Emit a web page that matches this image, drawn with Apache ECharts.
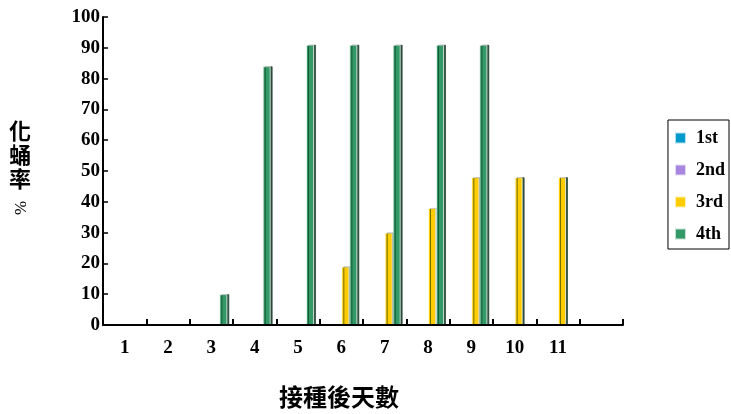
<!DOCTYPE html>
<html><head><meta charset="utf-8">
<script src="https://cdn.jsdelivr.net/npm/echarts@6/dist/echarts.min.js"></script>
<style>html,body{margin:0;padding:0;background:#fff}#c{width:731px;height:414px}</style>
</head><body><div id="c"></div>
<script>
const categories = ['1','2','3','4','5','6','7','8','9','10','11',''];
const seriesNames = ['1st','2nd','3rd','4th'];
const first  = [0,0,0,0,0,0,0,0,0,0,0,null];
const second = [0,0,0,0,0,0,0,0,0,0,0,null];
const third  = [0,0,0,0,0,19,30,38,48,48,48,null];
const fourth = [0,0,10,84,91,91,91,91,91,null,null,null];
const yTicks = [0,10,20,30,40,50,60,70,80,90,100];
const colors = ['#0099CC','#A885DE','#FFCC00','#339966'];
const dataSets = [first, second, third, fourth];
const font = '"Liberation Serif", "Times New Roman", serif';

const chart = echarts.init(document.getElementById('c'));
chart.setOption({
  animation: false,
  backgroundColor: '#fff',
  grid: {left: 103, right: 108, top: 17, bottom: 89},
  legend: {
    orient: 'vertical', right: 2, top: 120,
    itemWidth: 11, itemHeight: 11, itemGap: 14,
    padding: [9, 4, 6, 6],
    borderColor: '#000', borderWidth: 1,
    icon: 'rect',
    textStyle: {fontFamily: font, fontWeight: 'bold', fontSize: 18, color: '#000', padding: [0, 0, 0, 5]},
    data: seriesNames
  },
  xAxis: {
    type: 'category', data: categories, z: 5,
    axisLine: {lineStyle: {color: '#000', width: 2}},
    axisTick: {show: true, interval: 0, inside: true, length: 6, lineStyle: {color: '#000', width: 2}},
    axisLabel: {fontFamily: font, fontWeight: 'bold', fontSize: 19, color: '#000', margin: 14, interval: 0},
    splitLine: {show: false}
  },
  yAxis: {
    type: 'value', min: 0, max: 100, interval: 10,
    axisLine: {show: true, lineStyle: {color: '#000', width: 2}},
    axisTick: {show: true, inside: true, length: 5, lineStyle: {color: '#000', width: 1.5}},
    axisLabel: {fontFamily: font, fontWeight: 'bold', fontSize: 19, color: '#000', margin: 3,
      formatter: v => yTicks.includes(v) ? String(v) : ''},
    splitLine: {show: false}
  },
  graphic: [
    {type: 'text', left: 9, top: 119, style: {text: '化\n蛹\n率', fontFamily: '"Noto Sans CJK TC", sans-serif', fontWeight: 'bold', fontSize: 22, lineHeight: 24, fill: '#000'}},
    {type: 'text', x: 13, y: 215, rotation: Math.PI/2, style: {text: '%', fontFamily: font, fontSize: 17, fill: '#000'}},
    {type: 'text', left: 279, top: 385, style: {text: '接種後天數', fontFamily: '"Noto Sans CJK TC", sans-serif', fontWeight: 'bold', fontSize: 24, fill: '#000'}}
  ],
  series: dataSets.map((d, i) => ({
    name: seriesNames[i], type: 'bar',
    data: d.map(v => (v ? {value: v, itemStyle: {shadowColor: 'rgba(0,40,20,0.8)', shadowOffsetX: 2, shadowOffsetY: 0, shadowBlur: 0}} : v)),
    barGap: '0%', barCategoryGap: '26%',
    itemStyle: {color: colors[i], borderColor: 'rgba(255,255,255,0.7)', borderWidth: 1}
  }))
});
</script></body></html>
